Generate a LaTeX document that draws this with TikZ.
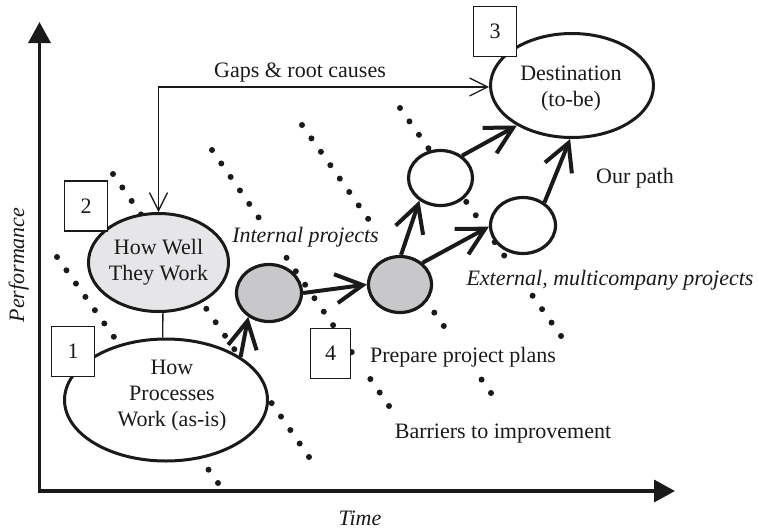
\documentclass[tikz,border=0pt]{standalone}
\usepackage{fontspec}
\setmainfont{Liberation Serif}
\usetikzlibrary{arrows.meta,shapes.geometric,calc}
\definecolor{lightg}{HTML}{E6E6E8}
\definecolor{midg}{HTML}{C8C8CA}
\definecolor{ink}{HTML}{1A1A1A}
\newcommand\dotsalong[4]{\foreach \i in {#4}{\fill[ink] ($(#1)!\i/#3!(#2)$) circle[radius=3pt];}}
\begin{document}
\begin{tikzpicture}[x=1pt,y=-1pt,
  txt/.style={font=\fontsize{22}{26}\selectfont, inner sep=0pt, text=ink},
  itxt/.style={txt, font=\fontsize{22}{26}\selectfont\itshape},
  blob/.style={ellipse, draw=ink, inner sep=0pt},
  numbox/.style={draw=ink, line width=1.2pt, fill=white, minimum width=43pt, minimum height=50pt, inner sep=0pt, text=ink, font=\fontsize{22}{26}\selectfont},
  bigarr/.style={draw=ink, line width=4pt, -{Straight Barb[length=27pt,width=29pt]}},
  gaparr/.style={draw=ink, line width=1.3pt, {Straight Barb[length=18pt,width=18pt]}-{Straight Barb[length=18pt,width=18pt]}},
  thinline/.style={draw=ink, line width=1.3pt},
  axisline/.style={draw=ink, line width=3.5pt, {Triangle[length=21pt,width=22pt]}-{Triangle[length=21pt,width=22pt]}}]

\useasboundingbox (0,0) rectangle (758,531);
\fill[white] (0,0) rectangle (758,531);

% dotted barrier lines
\coordinate (A1) at (57,257);  \coordinate (A2) at (218,483);
\coordinate (B1) at (113,174); \coordinate (B2) at (309,457);
\coordinate (C1) at (212,150); \coordinate (C2) at (389,406);
\coordinate (D1) at (302,125); \coordinate (D2) at (491,393);
\coordinate (E1) at (400,108); \coordinate (E2) at (561,336);
\dotsalong{A1}{A2}{17}{0,...,17}
\dotsalong{B1}{B2}{21}{0,...,21}
\dotsalong{C1}{C2}{19}{0,1,2,3,4,5,8,9,10,11,12,13,14,15,17,18,19}
\dotsalong{D1}{D2}{20}{0,1,2,3,4,5,6,7,10,11,12,13,14,15,19,20}
\dotsalong{E1}{E2}{17}{0,1,2,3,4,5,6,7,8,10,11,14,15,16,17}

% axes
\coordinate (ytip) at (39.5,22);
\coordinate (origin) at (39.5,491);
\coordinate (xtip) at (675,491);
\draw[axisline] (ytip) -- (origin) -- (xtip);

% ellipses
\node[blob, line width=3pt, fill=white, minimum width=203pt, minimum height=122pt] (e1) at (166,400) {};
\node[txt, align=center] (t1) at (172,396) {How\\Processes\\Work (as-is)};
\node[blob, txt, align=center, line width=3pt, fill=lightg, minimum width=140pt, minimum height=98pt] (e2) at (158.5,262.5) {How Well\\They Work};
\draw[thinline] (e2.275) -- (e1.93);
\node[blob, line width=3pt, fill=white, minimum width=163pt, minimum height=104pt] (dest) at (572,85.5) {};
\node[txt, align=center] (tdest) at (571,89) {Destination\\(to-be)};
\node[blob, line width=3.2pt, fill=midg, minimum width=65pt, minimum height=57pt] (g1) at (269,293) {};
\node[blob, line width=3.2pt, fill=midg, minimum width=63pt, minimum height=56pt] (g2) at (400,284.5) {};
\node[blob, line width=3.2pt, fill=white, minimum width=64pt, minimum height=55pt] (w1) at (440.5,178) {};
\node[blob, line width=3.2pt, fill=white, minimum width=65pt, minimum height=56pt] (w2) at (523,225.5) {};

% gaps connector
\draw[gaparr] (e2.north) |- (dest.181);

% path arrows
\draw[bigarr] (e1.30) -- (g1.229);
\draw[bigarr] (g1.0) -- (g2.180);
\draw[bigarr] (g2.88) -- (w1.227);
\draw[bigarr] (g2.44) -- (w2.182);
\draw[bigarr] (w1.46) -- (dest.216);
\draw[bigarr] (w2.47) -- (dest.268);

% number boxes
\node[numbox] (b1) at (73,351.5) {1};
\node[numbox] (b2) at (86,206) {2};
\node[numbox] (b3) at (495,31.5) {3};
\node[numbox, minimum width=40pt] (b4) at (330.5,353.5) {4};

% labels
\node[txt, anchor=base] (lgaps) at (300,77) {Gaps \& root causes};
\node[itxt, anchor=base] (lint) at (305.5,242) {Internal projects};
\node[txt, anchor=base] (lpath) at (635,183) {Our path};
\node[itxt, anchor=base] (lext) at (610,285) {External, multicompany projects};
\node[txt, anchor=base] (lprep) at (463,362) {Prepare project plans};
\node[txt, anchor=base] (lbar) at (503,438) {Barriers to improvement};
\node[itxt, anchor=base] (ltime) at (360,525) {Time};
\node[itxt, anchor=base, rotate=90] (lperf) at (24,265) {Performance};
\end{tikzpicture}
\end{document}
